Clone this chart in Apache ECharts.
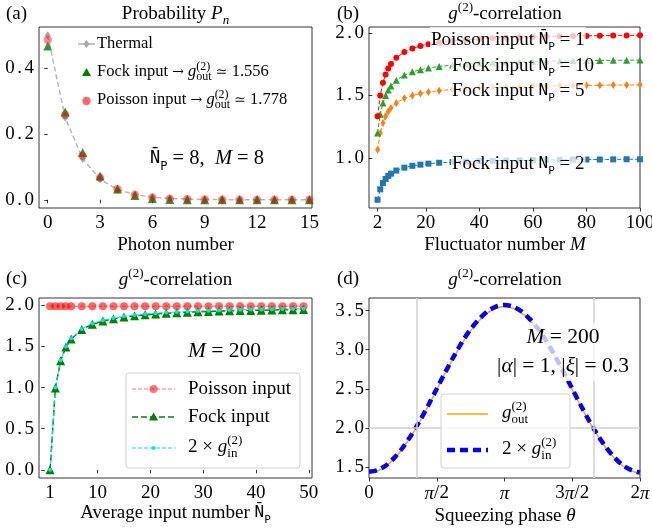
<!DOCTYPE html>
<html>
<head>
<meta charset="utf-8">
<script src="https://cdn.jsdelivr.net/npm/echarts@6/dist/echarts.min.js"></script>
<style>
html, body { margin: 0; padding: 0; background: #fff; }
#chart { width: 652px; height: 531px; }
</style>
</head>
<body>
<div id="chart"></div>
<script>
// (a) photon number distribution
var photonN = [0, 1, 2, 3, 4, 5, 6, 7, 8, 9, 10, 11, 12, 13, 14, 15];
var thermalP = [0.5, 0.25, 0.125, 0.0625, 0.031, 0.016, 0.008, 0.004, 0.002, 0.001, 0.0005, 0.0002, 0.0001, 0.0001, 0, 0];
var fockP = [0.467, 0.267, 0.144, 0.072, 0.033, 0.013, 0.004, 0.001, 0.0002, 0, 0, 0, 0, 0, 0, 0];
var poissonP = [0.486, 0.258, 0.134, 0.067, 0.032, 0.015, 0.007, 0.003, 0.0013, 0.0005, 0.0002, 0.0001, 0, 0, 0, 0];
var aTicksX = [0, 3, 6, 9, 12, 15];
var aTicksY = [0, 0.2, 0.4];

// (b) g2 vs fluctuator number M
var fluctM = [2, 3, 4, 5, 6, 7, 9, 12, 15, 18, 21, 25, 30, 35, 40, 45, 50, 55, 60, 65, 70, 75, 80, 85, 90, 95, 100];
var bPoisson1 = [1.333, 1.5, 1.6, 1.667, 1.714, 1.75, 1.8, 1.846, 1.875, 1.895, 1.909, 1.923, 1.935, 1.944, 1.951, 1.957, 1.961, 1.964, 1.967, 1.97, 1.972, 1.974, 1.975, 1.977, 1.978, 1.979, 1.98];
var bFock10 = [1.2, 1.35, 1.44, 1.5, 1.543, 1.575, 1.62, 1.662, 1.688, 1.705, 1.718, 1.731, 1.742, 1.75, 1.756, 1.761, 1.765, 1.768, 1.771, 1.773, 1.775, 1.776, 1.778, 1.779, 1.78, 1.781, 1.782];
var bFock5 = [1.067, 1.2, 1.28, 1.333, 1.371, 1.4, 1.44, 1.477, 1.5, 1.516, 1.527, 1.538, 1.548, 1.556, 1.561, 1.565, 1.569, 1.571, 1.574, 1.576, 1.577, 1.579, 1.58, 1.581, 1.582, 1.583, 1.584];
var bFock2 = [0.667, 0.75, 0.8, 0.833, 0.857, 0.875, 0.9, 0.923, 0.938, 0.947, 0.955, 0.962, 0.968, 0.972, 0.976, 0.978, 0.98, 0.982, 0.984, 0.985, 0.986, 0.987, 0.988, 0.988, 0.989, 0.99, 0.99];
var bTicksX = [2, 20, 40, 60, 80, 100];
var bTicksY = [1.0, 1.5, 2.0];

// (c) g2 vs average input number, M = 200
var inputN = [1, 2, 3, 4, 5, 7, 9, 11, 13, 15, 17, 19, 21, 23, 25, 27, 29, 31, 33, 35, 37, 39, 41, 43, 45, 47, 49];
var cPoisson = [1.99, 1.99, 1.99, 1.99, 1.99, 1.99, 1.99, 1.99, 1.99, 1.99, 1.99, 1.99, 1.99, 1.99, 1.99, 1.99, 1.99, 1.99, 1.99, 1.99, 1.99, 1.99, 1.99, 1.99, 1.99, 1.99, 1.99];
var cFock = [0, 0.995, 1.327, 1.493, 1.592, 1.706, 1.769, 1.809, 1.837, 1.857, 1.873, 1.885, 1.895, 1.903, 1.91, 1.916, 1.921, 1.926, 1.93, 1.933, 1.936, 1.939, 1.941, 1.944, 1.946, 1.948, 1.95];
var cTwoGin = [0, 1.0, 1.333, 1.5, 1.6, 1.714, 1.778, 1.818, 1.846, 1.867, 1.882, 1.895, 1.905, 1.913, 1.92, 1.926, 1.931, 1.935, 1.939, 1.943, 1.946, 1.949, 1.951, 1.953, 1.956, 1.957, 1.959];
var cTicksX = [1, 10, 20, 30, 40, 50];
var cTicksY = [0, 0.5, 1.0, 1.5, 2.0];

// (d) g2 vs squeezing phase
var theta = [0, 0.196, 0.393, 0.589, 0.785, 0.982, 1.178, 1.374, 1.571, 1.767, 1.963, 2.160, 2.356, 2.553, 2.749, 2.945, 3.142,
             3.338, 3.534, 3.731, 3.927, 4.123, 4.320, 4.516, 4.712, 4.909, 5.105, 5.301, 5.498, 5.694, 5.890, 6.087, 6.283];
var dGout = [1.43, 1.45, 1.51, 1.61, 1.74, 1.90, 2.08, 2.28, 2.49, 2.70, 2.90, 3.08, 3.24, 3.37, 3.47, 3.53, 3.55,
             3.53, 3.47, 3.37, 3.24, 3.08, 2.90, 2.70, 2.49, 2.28, 2.08, 1.90, 1.74, 1.61, 1.51, 1.45, 1.42];
var dTwoGin = [1.44, 1.46, 1.52, 1.62, 1.75, 1.91, 2.09, 2.29, 2.50, 2.71, 2.91, 3.10, 3.26, 3.39, 3.49, 3.55, 3.57,
               3.55, 3.49, 3.39, 3.26, 3.10, 2.91, 2.71, 2.50, 2.29, 2.09, 1.91, 1.75, 1.62, 1.52, 1.46, 1.43];
var dCrossTheta = [1.10, 5.21];
var dCrossG = [2.0];
var dTicksX = [0, 1.5708, 3.1416, 4.7124, 6.2832];
var dTickLabels = ['0', '{it|π}/2', '{it|π}', '3{it|π}/2', '2{it|π}'];
var dTicksY = [1.5, 2.0, 2.5, 3.0, 3.5];

var SERIF = 'Liberation Serif';
var MONO = 'DejaVu Sans Mono';
var FS = 19;

function mkRich(fs) {
    var s = Math.round(fs * 0.7);
    return {
        it: { fontFamily: SERIF, fontStyle: 'italic', fontSize: fs },
        sym: { fontFamily: 'DejaVu Serif', fontSize: Math.round(fs * 0.85) },
        pt: { fontFamily: SERIF, fontSize: fs, padding: [0, 2.5] },
        sup: { fontFamily: SERIF, fontSize: s, verticalAlign: 'top', lineHeight: s },
        sup0: { fontFamily: SERIF, fontSize: s, verticalAlign: 'top', lineHeight: s, width: 0.1 },
        sub: { fontFamily: SERIF, fontSize: s, verticalAlign: 'bottom', lineHeight: s },
        subit: { fontFamily: SERIF, fontStyle: 'italic', fontSize: s, verticalAlign: 'bottom', lineHeight: s + 1 },
        subin: { fontFamily: SERIF, fontSize: s, verticalAlign: 'bottom', lineHeight: s, width: Math.round(fs * 0.85) },
        tt: { fontFamily: MONO, fontSize: Math.round(fs * 0.84) },
        ttsub: { fontFamily: MONO, fontSize: Math.round(fs * 0.58), verticalAlign: 'bottom', lineHeight: Math.round(fs * 0.8) }
    };
}
var rich = mkRich(FS);

function pairs(xs, ys) {
    return xs.map(function (x, i) { return [x, ys[i]]; });
}

function label(x, y, text, align, extra, fs) {
    fs = fs || FS;
    var style = {
        text: text, rich: mkRich(fs), fontFamily: SERIF, fontSize: fs, fill: '#000',
        align: align || 'left', verticalAlign: 'middle',
        textAlign: align || 'left', textVerticalAlign: 'middle', lineHeight: Math.round(fs * 1.35)
    };
    if (extra) {
        for (var k in extra) style[k] = extra[k];
    }
    return { type: 'text', x: x, y: y, z: 100, style: style };
}

// decimal point set a little apart, as in the original tick labels
function dec(v) {
    return v.toFixed(1).replace('.', '{pt|.}');
}

function mkX(idx, min, max, ticks, fmt) {
    return {
        type: 'value', gridIndex: idx, min: min, max: max,
        axisLine: { show: false },
        axisTick: { show: true, customValues: ticks, length: 3.5, lineStyle: { color: '#000', width: 0.8 } },
        axisLabel: { customValues: ticks, fontFamily: SERIF, fontSize: FS, color: '#000', margin: 6,
                     formatter: fmt, rich: rich },
        splitLine: { show: false }
    };
}
function mkY(idx, min, max, ticks) {
    return {
        type: 'value', gridIndex: idx, min: min, max: max,
        axisLine: { show: false },
        axisTick: { show: true, customValues: ticks, length: 3.5, lineStyle: { color: '#000', width: 0.8 } },
        axisLabel: { customValues: ticks, fontFamily: SERIF, fontSize: FS, color: '#000', margin: 5,
                     formatter: dec, rich: rich },
        splitLine: { show: false }
    };
}
function mkGrid(left, top, width, height) {
    return { left: left, top: top, width: width, height: height, show: true,
             borderColor: '#000', borderWidth: 0.8, outerBoundsMode: 'none', containLabel: false };
}

var chart = echarts.init(document.getElementById('chart'));

var textBg = { backgroundColor: 'rgba(255,255,255,0.75)', padding: [0, 1] };

var graphics = [
    // panel letters and titles
    label(6, 14, '(a)'),
    label(175.5, 14, 'Probability {it|P}{subit|n}', 'center'),
    label(337, 14, '(b)'),
    label(505, 14, '{it|g}{sup|(2)}-correlation', 'center'),
    label(6, 279, '(c)'),
    label(175.5, 280, '{it|g}{sup|(2)}-correlation', 'center'),
    label(337, 279, '(d)'),
    label(505, 280, '{it|g}{sup|(2)}-correlation', 'center'),
    // axis titles
    label(175.5, 245, 'Photon number', 'center'),
    label(505, 245, 'Fluctuator number {it|M}', 'center'),
    label(175.5, 513, 'Average input number {tt|N̄}{ttsub|P}', 'center'),
    label(505, 516, 'Squeezing phase {it|θ}', 'center'),

    // (a) legend
    { type: 'line', z: 100, shape: { x1: 78, y1: 44, x2: 95, y2: 44 }, style: { stroke: '#b0b0b0', lineWidth: 1.5 } },
    { type: 'polygon', z: 101, shape: { points: [[86.5, 40], [89.5, 44], [86.5, 48], [83.5, 44]] }, style: { fill: '#a8a8a8' } },
    label(97, 44, 'Thermal', 'left', null, 16.5),
    { type: 'polygon', z: 101, shape: { points: [[86.5, 68], [91, 76], [82, 76]] }, style: { fill: '#008000' } },
    label(97, 72, 'Fock input {sym|→} {it|g}{sup0|(2)}{sub|out} {sym|≃} 1.556', 'left', null, 16.5),
    { type: 'circle', z: 101, shape: { cx: 86.5, cy: 101, r: 4.2 }, style: { fill: 'rgba(255,0,0,0.6)' } },
    label(97, 100, 'Poisson input {sym|→} {it|g}{sup0|(2)}{sub|out} {sym|≃} 1.778', 'left', null, 16.5),
    label(150, 159, '{tt|N̄}{ttsub|P} = 8,  {it|M} = 8', 'left', null, 20.5),

    // (b) curve labels
    label(430, 40, 'Poisson input {tt|N̄}{ttsub|P} = 1', 'left', textBg),
    label(451, 66, 'Fock input {tt|N}{ttsub|P} = 10', 'left', textBg),
    label(451, 91, 'Fock input {tt|N}{ttsub|P} = 5', 'left', textBg),
    label(451, 164, 'Fock input {tt|N}{ttsub|P} = 2', 'left', textBg),

    // (c) annotation and legend
    label(188, 351, '{it|M} = 200', 'left', null, 21.5),
    { type: 'rect', z: 99, shape: { x: 126, y: 373, width: 174, height: 95, r: 3 },
      style: { fill: 'rgba(255,255,255,0.8)', stroke: '#d0d0d0', lineWidth: 1 } },
    { type: 'line', z: 100, shape: { x1: 132, y1: 389, x2: 175, y2: 389 }, style: { stroke: 'rgba(255,0,0,0.55)', lineWidth: 1, lineDash: [4, 2] } },
    { type: 'circle', z: 101, shape: { cx: 153.5, cy: 389, r: 4 }, style: { fill: 'rgba(255,0,0,0.55)' } },
    label(188, 389, 'Poisson input'),
    { type: 'line', z: 100, shape: { x1: 132, y1: 417, x2: 175, y2: 417 }, style: { stroke: '#008000', lineWidth: 1.5, lineDash: [6, 3] } },
    { type: 'polygon', z: 101, shape: { points: [[153.5, 412.5], [158, 420.5], [149, 420.5]] }, style: { fill: '#008000' } },
    label(188, 417, 'Fock input'),
    { type: 'line', z: 100, shape: { x1: 132, y1: 448, x2: 175, y2: 448 }, style: { stroke: '#00e5e5', lineWidth: 1, lineDash: [4, 2] } },
    { type: 'circle', z: 101, shape: { cx: 153.5, cy: 448, r: 2 }, style: { fill: '#00e5e5' } },
    label(188, 447, '2 × {it|g}{sup0|(2)}{subin|in}'),

    // (d) annotation and legend
    label(563, 352, '{it|M} = 200\n|{it|α}| = 1, |{it|ξ}| = 0.3', 'center', textBg, 21.5),
    { type: 'rect', z: 99, shape: { x: 441, y: 394, width: 129, height: 74, r: 3 },
      style: { fill: 'rgba(255,255,255,0.8)', stroke: '#d0d0d0', lineWidth: 1 } },
    { type: 'line', z: 100, shape: { x1: 447, y1: 414, x2: 488, y2: 414 }, style: { stroke: '#ffa500', lineWidth: 1.5 } },
    label(502, 413, '{it|g}{sup0|(2)}{sub|out}'),
    { type: 'line', z: 100, shape: { x1: 447, y1: 450, x2: 488, y2: 450 }, style: { stroke: '#0000ff', lineWidth: 4.5, lineDash: [8, 5] } },
    label(502, 449, '2 × {it|g}{sup0|(2)}{subin|in}')
];

var option = {
    animation: false,
    backgroundColor: '#fff',
    grid: [
        mkGrid(39, 27, 273, 181),
        mkGrid(369, 27, 271, 181),
        mkGrid(39, 298, 273, 180),
        mkGrid(369, 298, 271, 180)
    ],
    xAxis: [
        mkX(0, -0.5, 15.15, aTicksX, function (v) { return String(v); }),
        mkX(1, -1.2, 100, bTicksX, function (v) { return String(v); }),
        mkX(2, -1.1, 50.6, cTicksX, function (v) { return String(v); }),
        mkX(3, 0, 6.2832, dTicksX, function (v) {
            var i = dTicksX.indexOf(v);
            return i >= 0 ? dTickLabels[i] : '';
        })
    ],
    yAxis: [
        mkY(0, -0.025, 0.525, aTicksY),
        mkY(1, 0.601, 2.046, bTicksY),
        mkY(2, -0.0995, 2.0895, cTicksY),
        mkY(3, 1.36, 3.66, dTicksY)
    ],
    graphic: graphics,
    series: [
        // (a)
        { type: 'line', xAxisIndex: 0, yAxisIndex: 0, data: pairs(photonN, thermalP),
          lineStyle: { color: '#b8b8b8', width: 1.5, type: [5, 3] },
          symbol: 'diamond', symbolSize: [6, 8], itemStyle: { color: '#a8a8a8' }, z: 2 },
        { type: 'scatter', xAxisIndex: 0, yAxisIndex: 0, data: pairs(photonN, fockP),
          symbol: 'triangle', symbolSize: 9, itemStyle: { color: '#008000' }, z: 3 },
        { type: 'scatter', xAxisIndex: 0, yAxisIndex: 0, data: pairs(photonN, poissonP),
          symbol: 'circle', symbolSize: 8.5, itemStyle: { color: 'rgba(255,0,0,0.55)' }, z: 4 },

        // (b)
        { type: 'line', xAxisIndex: 1, yAxisIndex: 1, data: pairs(fluctM, bFock2),
          lineStyle: { color: '#1f77b4', width: 1, type: [4, 2] },
          symbol: 'rect', symbolSize: 6, itemStyle: { color: '#1f77b4' } },
        { type: 'line', xAxisIndex: 1, yAxisIndex: 1, data: pairs(fluctM, bFock5),
          lineStyle: { color: '#ff7f0e', width: 1, type: [4, 2] },
          symbol: 'diamond', symbolSize: [5, 8], itemStyle: { color: '#ff7f0e' } },
        { type: 'line', xAxisIndex: 1, yAxisIndex: 1, data: pairs(fluctM, bFock10),
          lineStyle: { color: '#2ca02c', width: 1, type: [4, 2] },
          symbol: 'triangle', symbolSize: 7, itemStyle: { color: '#2ca02c' } },
        { type: 'line', xAxisIndex: 1, yAxisIndex: 1, data: pairs(fluctM, bPoisson1),
          lineStyle: { color: '#ff0000', width: 1, type: [4, 2] },
          symbol: 'circle', symbolSize: 6, itemStyle: { color: '#ff0000' } },

        // (c)
        { type: 'line', xAxisIndex: 2, yAxisIndex: 2, data: pairs(inputN, cPoisson),
          lineStyle: { color: 'rgba(255,0,0,0.55)', width: 1, type: [4, 2] },
          symbol: 'circle', symbolSize: 8, itemStyle: { color: 'rgba(255,0,0,0.6)' } },
        { type: 'line', xAxisIndex: 2, yAxisIndex: 2, data: pairs(inputN, cFock),
          lineStyle: { color: '#008000', width: 1.5, type: [6, 3] },
          symbol: 'triangle', symbolSize: 9, itemStyle: { color: '#008000' } },
        { type: 'line', xAxisIndex: 2, yAxisIndex: 2, data: pairs(inputN, cTwoGin),
          lineStyle: { color: '#00e5e5', width: 1, type: [4, 2] },
          symbol: 'circle', symbolSize: 4, itemStyle: { color: '#00e5e5' } },

        // (d)
        { type: 'line', xAxisIndex: 3, yAxisIndex: 3, data: [], z: 1,
          markLine: { silent: true, symbol: 'none', label: { show: false },
                      lineStyle: { color: '#d0d0d0', width: 1.5, type: 'solid' },
                      data: dCrossTheta.map(function (t) { return { xAxis: t }; })
                            .concat(dCrossG.map(function (g) { return { yAxis: g }; })) } },
        { type: 'line', xAxisIndex: 3, yAxisIndex: 3, data: pairs(theta, dGout), smooth: 0.3,
          showSymbol: false, symbol: 'none', lineStyle: { color: '#ffa500', width: 1.5 }, z: 3 },
        { type: 'line', xAxisIndex: 3, yAxisIndex: 3, data: pairs(theta, dTwoGin), smooth: 0.3,
          showSymbol: false, symbol: 'none', lineStyle: { color: '#0000ff', width: 4.5, type: [8, 5] }, z: 4 }
    ]
};

chart.setOption(option);
</script>
</body>
</html>
